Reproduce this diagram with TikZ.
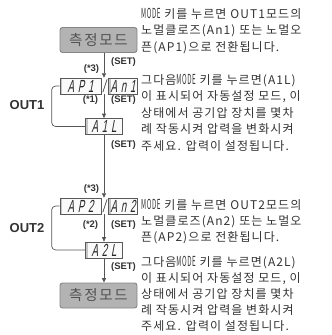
\documentclass[tikz,border=0pt]{standalone}
\usepackage{fontspec}
\usepackage{graphicx}
\setmainfont{Liberation Sans}
\newfontfamily\kr[LetterSpace=9]{Noto Sans CJK KR}
\newfontfamily\krbox[LetterSpace=12]{Noto Sans CJK KR}
\newfontfamily\segfont[FakeSlant=0.18,FakeStretch=0.55,LetterSpace=22]{Liberation Sans}
\usetikzlibrary{arrows.meta}
\definecolor{ink}{HTML}{333333}
\definecolor{wire}{HTML}{555555}
\definecolor{boxfill}{HTML}{B3B3B3}
\definecolor{boxedge}{HTML}{858585}
\definecolor{lcdfill}{HTML}{FAFAFA}
\newcommand\mdword{\scalebox{0.52}[1.15]{MODE}}
\tikzset{
 modebox/.style={draw=boxedge, fill=boxfill, rounded corners=2.5pt, line width=0.9pt, minimum width=77pt, minimum height=25pt, inner sep=0pt, font=\krbox\fontsize{14.5}{14.5}\selectfont, text=black!68},
 lcd/.style={draw=black!65, fill=lcdfill, line width=0.7pt, minimum height=16pt, inner sep=0pt, font=\segfont\fontsize{17.5}{17.5}\selectfont, text=black!85,
   path picture={\fill[gray!45] (path picture bounding box.south west) rectangle ([xshift=2.2pt]path picture bounding box.north west);}},
 slashnode/.style={inner sep=0pt, minimum height=16pt, font=\segfont\fontsize{17.5}{17.5}\selectfont, text=black!85},
 seltag/.style={font=\fontsize{9.5}{10}\selectfont\bfseries, text=ink, inner sep=0pt},
 outlbl/.style={font=\fontsize{13}{13}\selectfont\bfseries, text=ink, inner sep=0pt},
 txt/.style={anchor=base west, inner sep=0pt, font=\kr\fontsize{12}{12}\selectfont, text=ink},
 conn/.style={draw=wire, line width=0.7pt},
 arr/.style={conn, -{Triangle[length=4.5pt,width=4pt]}},
}
\begin{document}
\begin{tikzpicture}[x=1pt,y=-1pt]
\useasboundingbox (0,0) rectangle (332,335);
% upper part
\node[modebox] (top) at (98.5,40) {측정모드};
\node[lcd, minimum width=41pt] (ap1) at (80.5,86) {AP1};
\node[slashnode] (s1) at (104,86) {/};
\node[lcd, minimum width=29pt] (an1) at (123,86) {An1};
\node[lcd, minimum width=37pt] (a1l) at (104,126.5) {A1L};
% lower part
\node[lcd, minimum width=41pt] (ap2) at (80.5,206) {AP2};
\node[slashnode] (s2) at (104,206) {/};
\node[lcd, minimum width=29pt] (an2) at (123,206) {An2};
\node[lcd, minimum width=37pt] (a2l) at (104,250) {A2L};
\node[modebox] (bot) at (98.5,295.5) {측정모드};
% connectors
\draw[arr] (top.south -| s1.north) -- (s1.north);
\draw[arr] (s1.south) -- (a1l.north);
\draw[arr] (a1l.south) -- (s2.north);
\draw[arr] (s2.south) -- (a2l.north);
\draw[arr] (a2l.south) -- (a2l.south |- bot.north);
\draw[conn, rounded corners=4pt] (ap1.west) -- ++(-8,0) |- (a1l.west);
\draw[conn, rounded corners=4pt] (ap2.west) -- ++(-8,0) |- (a2l.west);
% tags
\node[seltag] (set1) at (123.5,62) {(SET)};
\node[seltag] (st3a) at (91.5,69) {(*3)};
\node[seltag] (st1) at (90.5,100) {(*1)};
\node[seltag] (set2) at (123.5,100) {(SET)};
\node[seltag] (set3) at (123.5,145) {(SET)};
\node[outlbl] (out1) at (27,105) {OUT1};
\node[seltag] (st3b) at (91.5,189) {(*3)};
\node[seltag] (st2) at (90.5,225) {(*2)};
\node[seltag] (set4) at (123.5,225) {(SET)};
\node[seltag] (set5) at (123.5,267) {(SET)};
\node[outlbl] (out2) at (27,228) {OUT2};
% text
\node[txt] (l1) at (141,18) {\mdword{} 키를 누르면 OUT1모드의};
\node[txt] (l2) at (141,34.5) {노멀클로즈(An1) 또는 노멀오};
\node[txt] (l3) at (141,51) {픈(AP1)으로 전환됩니다.};
\node[txt] (l4) at (141,84) {그다음\mdword{} 키를 누르면(A1L)};
\node[txt] (l5) at (141,100.5) {이 표시되어 자동설정 모드, 이};
\node[txt] (l6) at (141,117) {상태에서 공기압 장치를 몇차};
\node[txt] (l7) at (141,133.5) {례 작동시켜 압력을 변화시켜};
\node[txt] (l8) at (141,150) {주세요. 압력이 설정됩니다.};
\node[txt] (l9) at (141,209) {\mdword{} 키를 누르면 OUT2모드의};
\node[txt] (l10) at (141,225) {노멀클로즈(An2) 또는 노멀오};
\node[txt] (l11) at (141,241) {픈(AP2)으로 전환됩니다.};
\node[txt] (l12) at (141,266) {그다음\mdword{} 키를 누르면(A2L)};
\node[txt] (l13) at (141,282) {이 표시되어 자동설정 모드, 이};
\node[txt] (l14) at (141,298) {상태에서 공기압 장치를 몇차};
\node[txt] (l15) at (141,314) {례 작동시켜 압력을 변화시켜};
\node[txt] (l16) at (141,330) {주세요. 압력이 설정됩니다.};
\end{tikzpicture}
\end{document}
